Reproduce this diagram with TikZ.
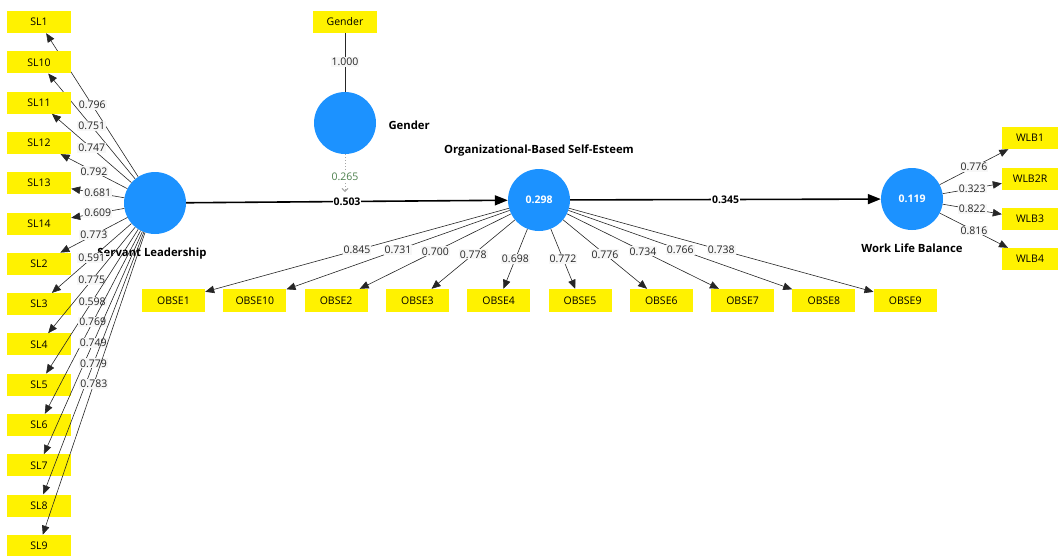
\documentclass[tikz,border=0pt]{standalone}
\usepackage{fontspec}
\setmainfont{Open Sans}
\usetikzlibrary{arrows.meta}
\definecolor{lvblue}{RGB}{28,146,255}
\begin{document}
\begin{tikzpicture}[x=1pt,y=-1pt,
 ind/.style={fill=yellow, minimum width=64pt, minimum height=22pt, inner sep=0pt, font=\fontsize{10.5}{11}\selectfont},
 lv/.style={circle, fill=lvblue, minimum size=62pt, inner sep=0pt, text=white, font=\bfseries\fontsize{10.5}{11}\selectfont},
 lvname/.style={font=\bfseries\fontsize{11.3}{13}\selectfont},
 load/.style={draw=black!85, line width=0.6pt, -{Triangle[length=9pt,width=7.5pt]}},
 ll/.style={fill=black!3, inner sep=1pt, font=\fontsize{10.5}{11}\selectfont, text=black!85},
 spath/.style={line width=1.6pt, -{Triangle[length=13pt,width=10pt]}},
 pl/.style={fill=white, inner sep=1pt, font=\bfseries\fontsize{10.5}{11}\selectfont}]
\useasboundingbox (0,0) rectangle (1060,555);

% latent variables
\node[lv] (SL) at (155,203) {};
\node[lvname] at (152,254) {Servant Leadership};
\node[lv] (G) at (345,123) {};
\node[lvname, anchor=west] at (385,125) {Gender};
\node[lv] (O) at (539,200) {0.298};
\node[lvname] at (539,151) {Organizational-Based Self-Esteem};
\node[lv] (W) at (912,199) {0.119};
\node[lvname] at (912,248) {Work Life Balance};

% Gender indicator
\node[ind] (g1) at (345,21.5) {Gender};
\draw[draw=black!85, line width=0.6pt] (G) -- node[ll]{1.000} (g1);

% SL indicators
\foreach \n/\v [count=\i from 0] in {SL1/0.796,SL10/0.751,SL11/0.747,SL12/0.792,SL13/0.681,SL14/0.609,SL2/0.773,SL3/0.591,SL4/0.775,SL5/0.598,SL6/0.769,SL7/0.749,SL8/0.779,SL9/0.783}{
  \node[ind] (sl\i) at (39,{22+40.3*\i}) {\n};
  \draw[load] (SL) -- node[ll]{\v} (sl\i);
}

% OBSE indicators
\foreach \n/\v [count=\i from 0] in {OBSE1/0.845,OBSE10/0.731,OBSE2/0.700,OBSE3/0.778,OBSE4/0.698,OBSE5/0.772,OBSE6/0.776,OBSE7/0.734,OBSE8/0.766,OBSE9/0.738}{
  \node[ind, minimum width=63pt, minimum height=23pt] (ob\i) at ({173.5+81.3*\i},300.5) {\n};
  \draw[load] (O) -- node[ll]{\v} (ob\i);
}

% WLB indicators
\foreach \n/\v/\y [count=\i from 0] in {WLB1/0.776/138,WLB2R/0.323/178.5,WLB3/0.822/219,WLB4/0.816/259}{
  \node[ind, minimum width=56pt] (wl\i) at (1030,\y) {\n};
  \draw[load] (W) -- node[ll]{\v} (wl\i);
}

% structural paths
\draw[spath] (SL) -- node[pl]{0.503} (O);
\draw[spath] (O) -- node[pl]{0.345} (W);

% moderating effect
\coordinate (m) at (345,192);
\draw[draw=gray!70, dotted, line width=0.9pt, -{Straight Barb[length=3pt,width=6pt]}] (G) -- node[ll, text=black!50!green!40!gray, fill=white, pos=0.6]{0.265} (m);
\end{tikzpicture}
\end{document}
